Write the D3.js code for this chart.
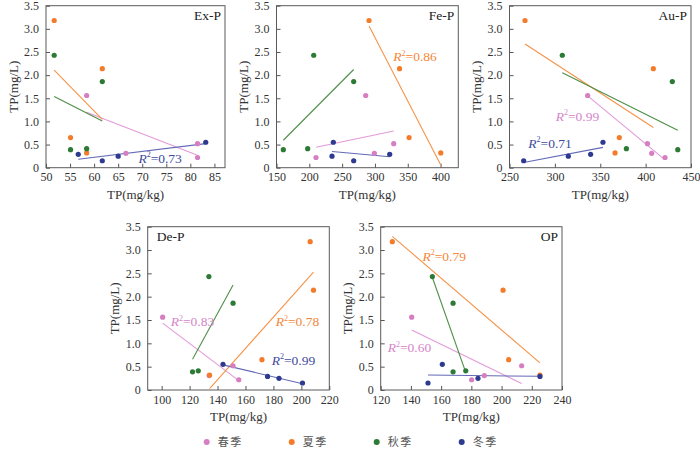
<!DOCTYPE html>
<html>
<head>
<meta charset="utf-8">
<script src="https://cdn.jsdelivr.net/npm/d3@7/dist/d3.min.js"></script>
<style>
  html, body { margin: 0; padding: 0; background: #fff; }
  svg { display: block; }
  .tick text { font-family: "Liberation Serif", "Times New Roman", serif; font-size: 12px; fill: #333; }
  .tick line { stroke: #555; }
</style>
</head>
<body>
<svg id="chart" width="700" height="449"></svg>
<script>
// ---------------- DATA ----------------
const seasons = ["春季", "夏季", "秋季", "冬季"];
// water TP (mg/L) per season (same four sites in every panel)
const springTP = [1.56, 0.52, 0.31, 0.22];
const summerTP = [3.18, 2.14, 0.65, 0.32];
const autumnTP = [2.43, 1.86, 0.41, 0.39];
const winterTP = [0.55, 0.29, 0.25, 0.15];

const panelNames = ["Ex-P", "Fe-P", "Au-P", "De-P", "OP"];
const xDomains = [[50, 87.2], [150, 427], [250, 450], [90, 220], [120, 240]];
const xTickValues = [
  [50, 55, 60, 65, 70, 75, 80, 85],
  [150, 200, 250, 300, 350, 400],
  [250, 300, 350, 400, 450],
  [100, 120, 140, 160, 180, 200, 220],
  [120, 140, 160, 180, 200, 220, 240]
];
const yTickValues = [0, 0.5, 1.0, 1.5, 2.0, 2.5, 3.0, 3.5];

// sediment P fraction (mg/kg), rows: spring, summer, autumn, winter
const exP_x = [[58.45, 81.5, 66.6, 81.5], [51.7, 61.7, 55.1, 58.45], [51.7, 61.7, 58.45, 55.1], [83.2, 56.7, 65.0, 61.7]];
const feP_x = [[285.9, 328.6, 299.1, 210.2], [291.0, 337.5, 352.0, 400.3], [206.7, 267.6, 197.5, 160.4], [236.6, 322.5, 234.6, 267.6]];
const auP_x = [[336.1, 402.0, 406.7, 421.4], [267.1, 408.5, 371.0, 366.3], [308.2, 429.4, 378.8, 435.4], [353.0, 339.4, 314.8, 265.6]];
const deP_x = [[100.7, 151.1, 134.0, 155.2], [206.3, 208.7, 171.8, 134.3], [133.8, 151.1, 126.2, 122.1], [143.9, 175.8, 184.0, 200.8]];
const op_x  = [[140.5, 213.3, 188.6, 180.2], [127.7, 201.0, 204.7, 225.4], [154.2, 167.9, 176.3, 167.9], [160.8, 225.4, 184.4, 151.3]];

// R² annotations: [panel, season, text, x(data), y(data)]
const r2Labels = [
  [0, 3, "0.73", 69.2, 0.11],
  [1, 1, "0.86", 328, 2.30],
  [2, 0, "0.99", 300.9, 1.015],
  [2, 3, "0.71", 270.7, 0.43],
  [3, 0, "0.83", 106.5, 1.37],
  [3, 1, "0.78", 181.6, 1.37],
  [3, 3, "0.99", 178.8, 0.536],
  [4, 1, "0.79", 147.6, 2.77],
  [4, 0, "0.60", 124.6, 0.81]
];

// ---------------- STYLE / LAYOUT ----------------
const seasonTP = [springTP, summerTP, autumnTP, winterTP];
const panelX = [exP_x, feP_x, auP_x, deP_x, op_x];
const pointColors = ["#d67ec2", "#f47b2a", "#2b7a35", "#2d3a8f"];
const lineColors  = ["#e39ad9", "#f5934a", "#4f8f48", "#6469b6"];
const textColors  = ["#d585c8", "#f4873a", "#2b7a35", "#3d4a9e"];
const boxes = [
  {x0: 46,    x1: 225,   y0: 5.7,   y1: 167.7},
  {x0: 276.5, x1: 458.3, y0: 5.7,   y1: 167.7},
  {x0: 509.5, x1: 691,   y0: 5.7,   y1: 167.7},
  {x0: 147.7, x1: 329.3, y0: 226.7, y1: 390},
  {x0: 380.7, x1: 562,   y0: 226.7, y1: 390}
];
const serif = '"Liberation Serif", "Times New Roman", serif';

const svg = d3.select("#chart");

function regression(xs, ys) {
  const n = xs.length;
  const mx = d3.mean(xs), my = d3.mean(ys);
  let sxy = 0, sxx = 0;
  for (let i = 0; i < n; i++) { sxy += (xs[i] - mx) * (ys[i] - my); sxx += (xs[i] - mx) ** 2; }
  const b = sxy / sxx, a = my - b * mx;
  return x => a + b * x;
}

panelNames.forEach((name, p) => {
  const b = boxes[p];
  const x = d3.scaleLinear().domain(xDomains[p]).range([b.x0, b.x1]);
  const y = d3.scaleLinear().domain([0, 3.5]).range([b.y1, b.y0]);
  const g = svg.append("g");

  // axes
  const xa = g.append("g").attr("transform", `translate(0,${b.y1})`)
    .call(d3.axisBottom(x).tickValues(xTickValues[p]).tickSize(-4).tickPadding(5).tickFormat(d3.format("d")));
  xa.select(".domain").remove();
  const ya = g.append("g").attr("transform", `translate(${b.x0},0)`)
    .call(d3.axisLeft(y).tickValues(yTickValues).tickSize(-4).tickPadding(7)
      .tickFormat(d => d === 0 ? "0" : d.toFixed(1)));
  ya.select(".domain").remove();

  // frame
  g.append("rect").attr("x", b.x0).attr("y", b.y0)
    .attr("width", b.x1 - b.x0).attr("height", b.y1 - b.y0)
    .attr("fill", "none").attr("stroke", "#5a5a5a").attr("stroke-width", 1);

  // axis titles
  g.append("text").attr("x", (b.x0 + b.x1) / 2).attr("y", b.y1 + 31)
    .attr("text-anchor", "middle").attr("font-family", serif).attr("font-size", 13)
    .attr("fill", "#333").text("TP(mg/kg)");
  g.append("text")
    .attr("transform", `translate(${b.x0 - 33},${(b.y0 + b.y1) / 2}) rotate(-90)`)
    .attr("text-anchor", "middle").attr("dy", "0.35em").attr("font-family", serif)
    .attr("font-size", 13).attr("fill", "#333").text("TP(mg/L)");

  // panel label
  const leftLabel = (p === 3);
  g.append("text")
    .attr("x", leftLabel ? b.x0 + 9 : b.x1 - 4).attr("y", b.y0 + 14.5)
    .attr("text-anchor", leftLabel ? "start" : "end")
    .attr("font-family", serif).attr("font-size", 13.5).attr("fill", "#222").text(name);

  // trend lines
  seasonTP.forEach((ys, s) => {
    const xs = panelX[p][s];
    const f = regression(xs, ys);
    const ext = d3.extent(xs);
    g.append("line")
      .attr("x1", x(ext[0])).attr("y1", y(f(ext[0])))
      .attr("x2", x(ext[1])).attr("y2", y(f(ext[1])))
      .attr("stroke", lineColors[s]).attr("stroke-width", 1.1);
  });

  // points
  seasonTP.forEach((ys, s) => {
    const xs = panelX[p][s];
    g.selectAll(null).data(ys.map((v, i) => [xs[i], v])).enter()
      .append("circle").attr("cx", d => x(d[0])).attr("cy", d => y(d[1]))
      .attr("r", 2.6).attr("fill", pointColors[s]);
  });

  // R² labels
  r2Labels.filter(r => r[0] === p).forEach(r => {
    const t = g.append("text").attr("x", x(r[3])).attr("y", y(r[4]))
      .attr("font-family", serif).attr("font-size", 13.5).attr("fill", textColors[r[1]]);
    t.append("tspan").attr("font-style", "italic").text("R");
    t.append("tspan").attr("font-size", 8).attr("dy", -5.5).text("2");
    t.append("tspan").attr("dy", 5.5).text("=" + r[2]);
  });
});

// legend
const legendX = d3.scalePoint().domain(seasons).range([206.7, 461.7]);
const lg = svg.append("g");
seasons.forEach((s, i) => {
  lg.append("circle").attr("cx", legendX(s)).attr("cy", 442).attr("r", 3).attr("fill", pointColors[i]);
  lg.append("text").attr("x", legendX(s) + 11).attr("y", 446)
    .attr("font-family", '"Noto Sans CJK SC", sans-serif').attr("font-size", 11)
    .attr("letter-spacing", 1.5).attr("fill", "#555").text(s);
});
</script>
</body>
</html>
